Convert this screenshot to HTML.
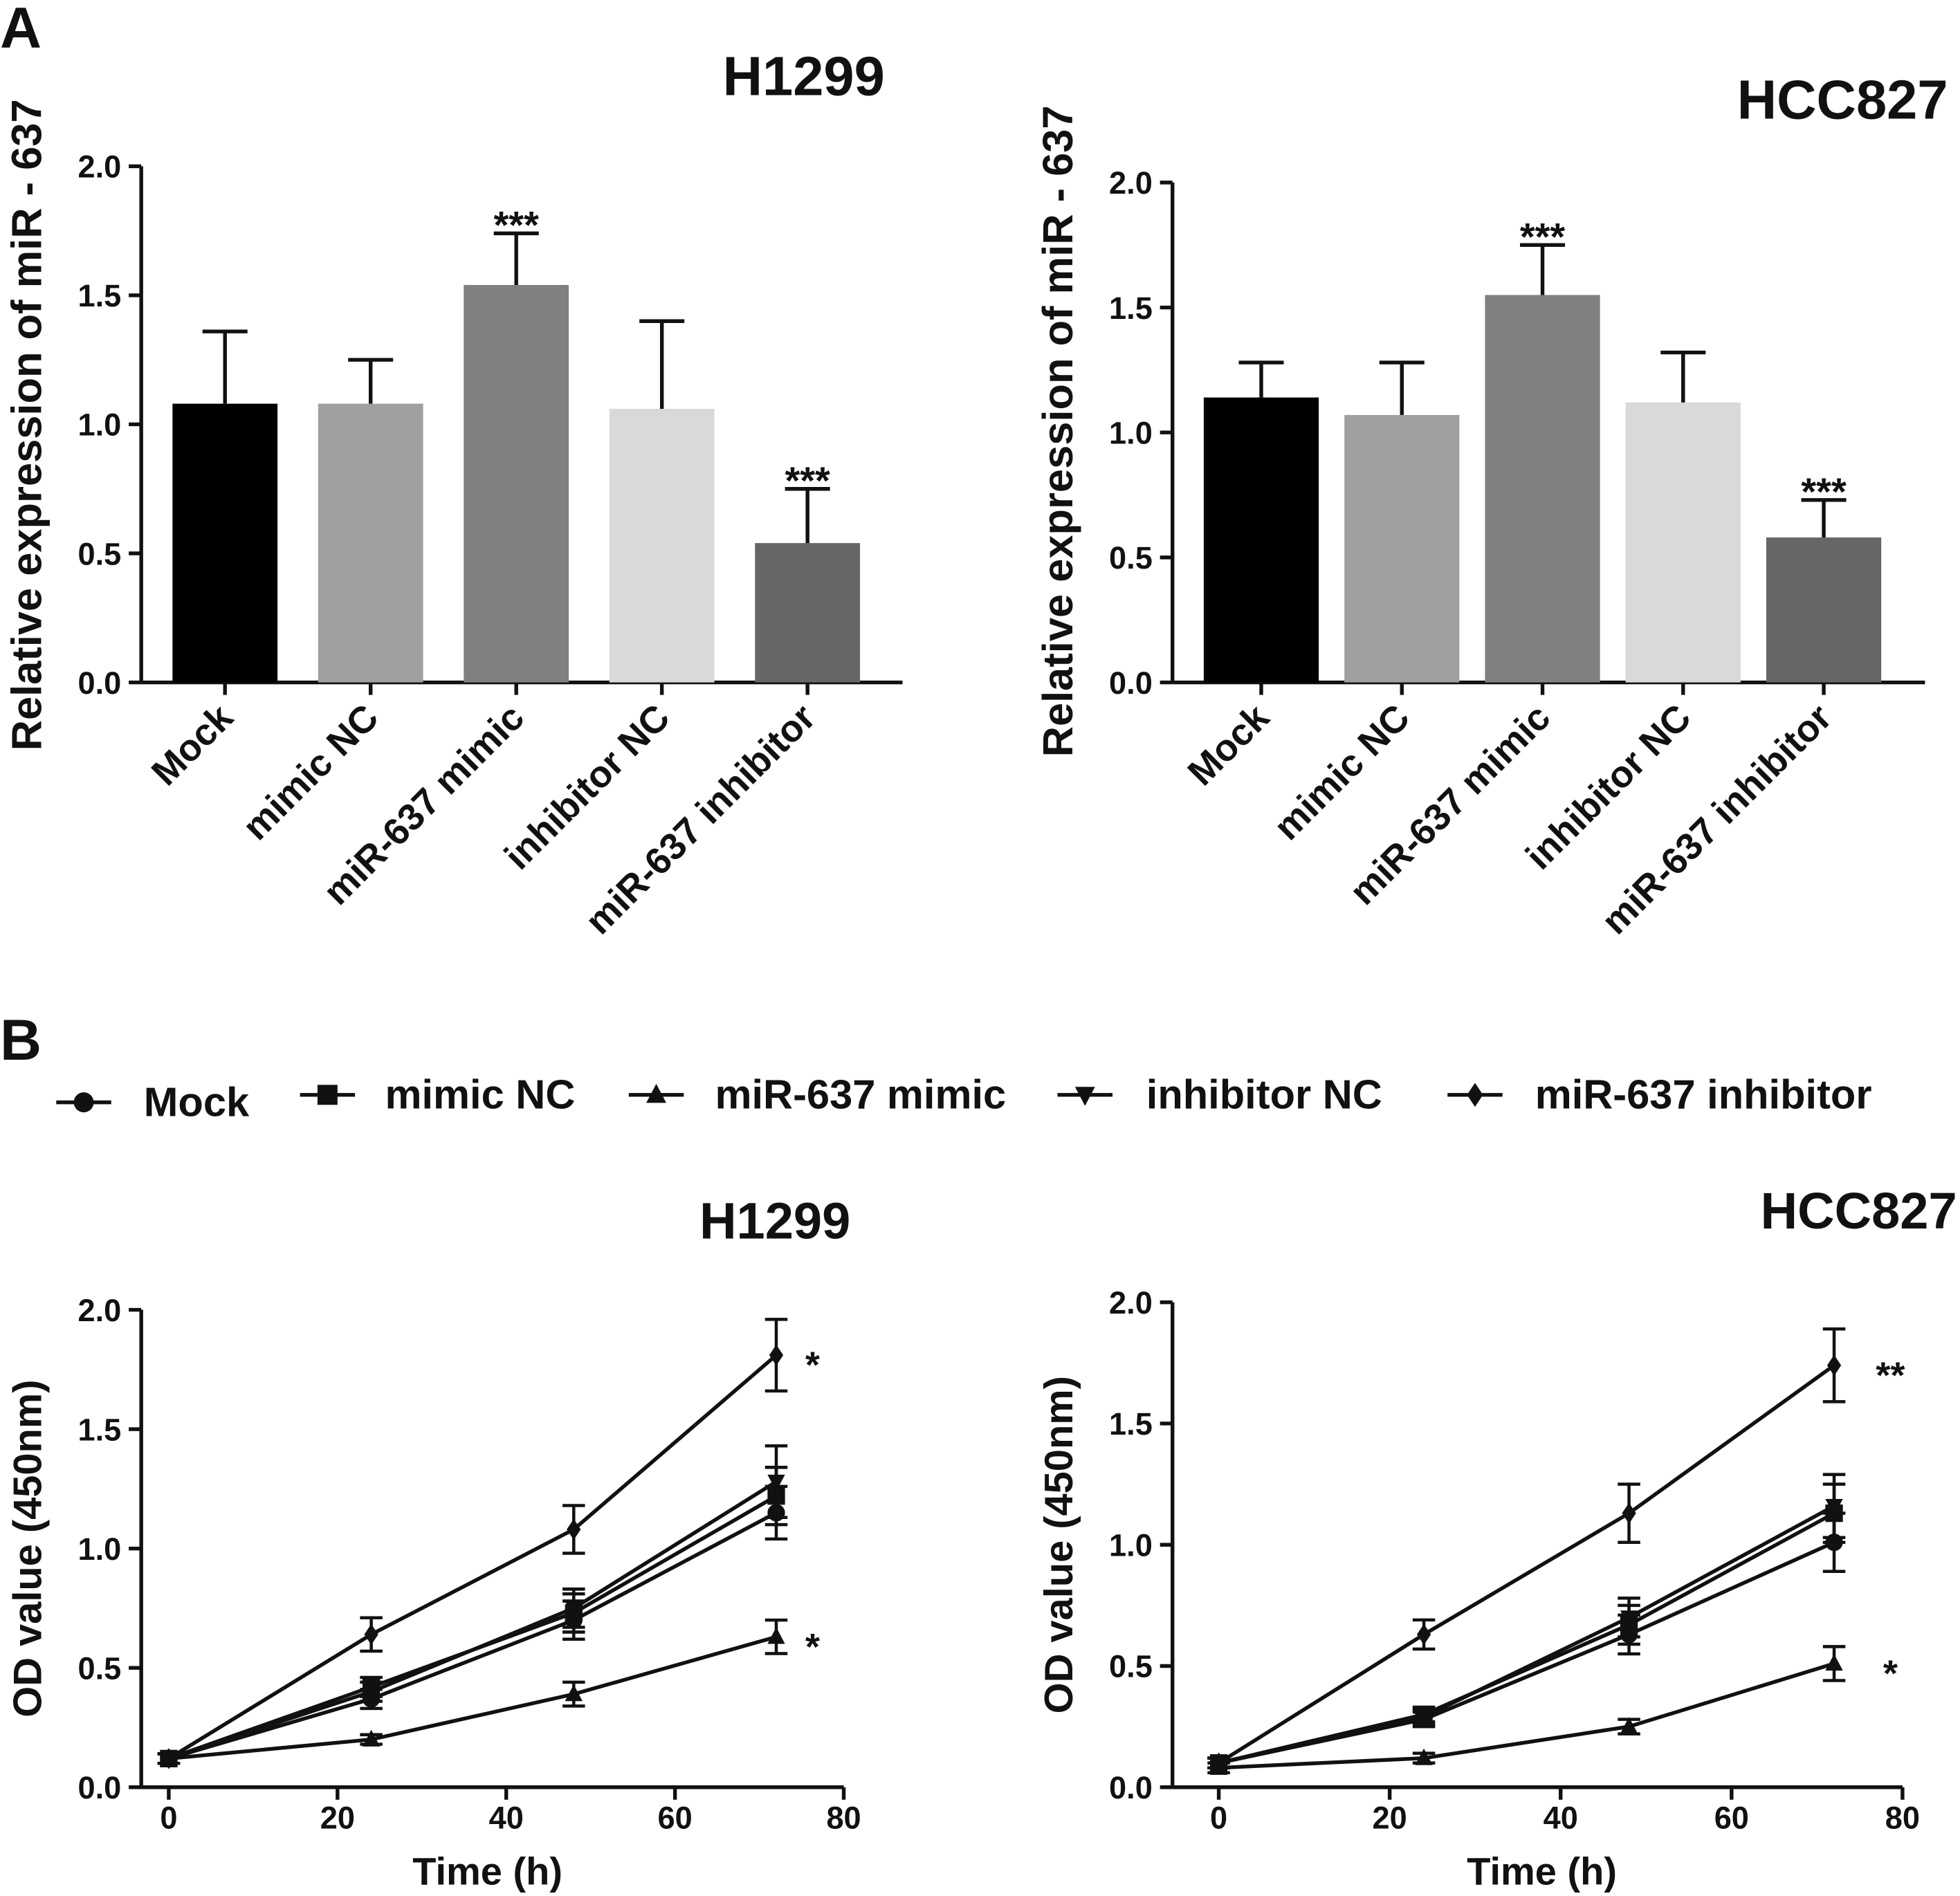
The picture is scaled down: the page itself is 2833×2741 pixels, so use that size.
<!DOCTYPE html>
<html><head><meta charset="utf-8"><style>
html,body{margin:0;padding:0;background:#fff}
svg{display:block}
text{font-family:"Liberation Sans",Arial,sans-serif;font-weight:bold;fill:#111}
</style></head><body>
<svg id="fig" width="2833" height="2741" viewBox="0 0 1568 1517" xmlns="http://www.w3.org/2000/svg">
<text x="0" y="38" font-size="46">A</text>
<text x="0" y="848" font-size="46">B</text>
<g id="root"></g>
</svg>
<script>
const NS="http://www.w3.org/2000/svg";
const barCats=["Mock","mimic NC","miR-637 mimic","inhibitor NC","miR-637 inhibitor"];
const barColors=["#000000","#a0a0a0","#808080","#d9d9d9","#666666"];
const h1299Bar=[1.08,1.08,1.54,1.06,0.54];
const h1299BarErr=[0.28,0.17,0.20,0.34,0.21];
const h1299BarSig=["","","***","","***"];
const hccBar=[1.14,1.07,1.55,1.12,0.58];
const hccBarErr=[0.14,0.21,0.20,0.20,0.15];
const hccBarSig=["","","***","","***"];
const yTicks=[0,0.5,1.0,1.5,2.0];
const times=[0,24,48,72];
const xTicks=[0,20,40,60,80];
const seriesNames=["Mock","mimic NC","miR-637 mimic","inhibitor NC","miR-637 inhibitor"];
const seriesMarkers=["circle","square","up","down","diamond"];
const h1299Mock=[0.12,0.37,0.70,1.15];
const h1299MimicNC=[0.12,0.42,0.73,1.22];
const h1299Mimic=[0.12,0.20,0.39,0.63];
const h1299InhNC=[0.12,0.40,0.75,1.28];
const h1299Inh=[0.12,0.64,1.08,1.81];
const h1299Err=[[0.02,0.04,0.08,0.11],[0.02,0.04,0.08,0.12],[0.02,0.02,0.05,0.07],[0.02,0.04,0.08,0.15],[0.02,0.07,0.10,0.15]];
const hccMock=[0.10,0.28,0.63,1.01];
const hccMimicNC=[0.10,0.30,0.67,1.13];
const hccMimic=[0.08,0.12,0.25,0.51];
const hccInhNC=[0.10,0.29,0.70,1.16];
const hccInh=[0.10,0.63,1.13,1.74];
const hccErr=[[0.02,0.03,0.08,0.12],[0.02,0.03,0.08,0.12],[0.02,0.02,0.03,0.07],[0.02,0.03,0.08,0.13],[0.02,0.06,0.12,0.15]];
const h1299Sig=[["*",1.81],["*",0.63]];
const hccSig=[["**",1.74],["*",0.51]];

const root=document.getElementById('root');
function el(tag,attrs,parent,txt){const e=document.createElementNS(NS,tag);for(const k in attrs)e.setAttribute(k,attrs[k]);if(txt!==undefined)e.textContent=txt;(parent||root).appendChild(e);return e;}
function line(x1,y1,x2,y2,p,w){return el('line',{x1,y1,x2,y2,stroke:'#111','stroke-width':w||3},p);}

function barChart(o){
  const g=el('g',{});
  
  
  const y=v=>o.y0-(o.y0-o.y2)*v/2;
  line(o.ax,o.y0,o.ax,o.y2,g);line(o.ax,o.y0,o.axEnd,o.y0,g);
  yTicks.forEach(t=>{line(o.ax-10,y(t),o.ax,y(t),g);
    const tt=el('text',{x:o.ax-16,y:y(t)+9,'font-size':25,'text-anchor':'end'},g,t.toFixed(1));
    });
  const lab=el('text',{transform:`translate(${o.ax-80},${o.ly}) rotate(-90)`,'font-size':34,'text-anchor':'middle'},g,'Relative expression of miR - 637');
  
  const t=el('text',{x:o.tx,y:o.ty,'font-size':44,'text-anchor':'middle'},g,o.title);
  
  barCats.forEach((c,i)=>{
    const x0=o.bx0+i*o.step, cx=x0+o.bw/2;
    const r=el('rect',{x:x0,y:y(o.vals[i]),width:o.bw,height:o.y0-y(o.vals[i]),fill:barColors[i]},g);
    
    const top=y(o.vals[i]+o.err[i]);
    line(cx,y(o.vals[i]),cx,top,g);line(cx-18,top,cx+18,top,g);
    line(cx,o.y0,cx,o.y0+10,g);
    if(o.sig[i]){const s=el('text',{x:cx,y:top+4,'font-size':31,'text-anchor':'middle'},g,o.sig[i]);
      }
    const cl=el('text',{transform:`translate(${cx+8},${o.y0+30}) rotate(-45)`,'font-size':30,'text-anchor':'end'},g,c);
    
  });
}
barChart({name:'h1299-bar-chart',ax:113,axEnd:722,y0:546,y2:133,bx0:138,step:116.5,bw:84,vals:h1299Bar,err:h1299BarErr,sig:h1299BarSig,title:'H1299',tx:643,ty:76,ly:340});
barChart({name:'hcc827-bar-chart',ax:938,axEnd:1540,y0:546,y2:146,bx0:963,step:112.5,bw:92,vals:hccBar,err:hccBarErr,sig:hccBarSig,title:'HCC827',tx:1474,ty:95,ly:345});

function marker(type,cx,cy,s,p){
  let m;
  if(type==='circle')m=el('circle',{cx,cy,r:s},p);
  else if(type==='square')m=el('rect',{x:cx-s,y:cy-s,width:2*s,height:2*s},p);
  else if(type==='up')m=el('polygon',{points:`${cx},${cy-s*1.1} ${cx-s},${cy+s*0.8} ${cx+s},${cy+s*0.8}`},p);
  else if(type==='down')m=el('polygon',{points:`${cx},${cy+s*1.1} ${cx-s},${cy-s*0.8} ${cx+s},${cy-s*0.8}`},p);
  else m=el('polygon',{points:`${cx},${cy-s*1.2} ${cx+s*0.8},${cy} ${cx},${cy+s*1.2} ${cx-s*0.8},${cy}`},p);
  m.setAttribute('fill','#111');
  return m;
}
const legX=[[45,115],[240,308],[503,572],[846,917],[1158,1228]];
seriesNames.forEach((n,i)=>{
  const g=el('g',{});
  
  
  const [mx,tx]=legX[i];const ly=i===0?882:876;
  line(mx,ly,mx+44,ly,g);marker(seriesMarkers[i],mx+22,ly,8,g);
  el('text',{x:tx,y:ly+11,'font-size':33},g,n);
});

function lineChart(o){
  const g=el('g',{});
  
  
  const y=v=>o.y0-(o.y0-o.y2)*v/2;
  const x=v=>o.x0+(o.x80-o.x0)*v/80;
  line(o.ax,o.y0,o.ax,o.y2,g);line(o.ax,o.y0,o.x80,o.y0,g);
  yTicks.forEach(t=>{line(o.ax-10,y(t),o.ax,y(t),g);
    const tt=el('text',{x:o.ax-16,y:y(t)+9,'font-size':25,'text-anchor':'end'},g,t.toFixed(1));
    });
  xTicks.forEach(t=>{line(x(t),o.y0,x(t),o.y0+10,g);
    const tt=el('text',{x:x(t),y:o.y0+33,'font-size':25,'text-anchor':'middle'},g,t);
    });
  const yl=el('text',{transform:`translate(${o.ax-80},${(o.y0+o.y2)/2}) rotate(-90)`,'font-size':32,'text-anchor':'middle'},g,'OD value (450nm)');
  
  const xl=el('text',{x:(o.x0+o.x80)/2-15,y:o.y0+78,'font-size':31,'text-anchor':'middle'},g,'Time (h)');
  
  const t=el('text',{x:o.tx,y:o.ty,'font-size':41,'text-anchor':'middle'},g,o.title);
  
  o.series.forEach((s,i)=>{
    const sg=el('g',{},g);
    
    
    el('polyline',{points:times.map((tm,j)=>x(tm)+','+y(s[j])).join(' '),fill:'none',stroke:'#111','stroke-width':3},sg);
    times.forEach((tm,j)=>{const e=o.err[i][j];
      line(x(tm),y(s[j]-e),x(tm),y(s[j]+e),sg,2.5);
      line(x(tm)-9,y(s[j]+e),x(tm)+9,y(s[j]+e),sg,2.5);
      line(x(tm)-9,y(s[j]-e),x(tm)+9,y(s[j]-e),sg,2.5);
      const m=marker(seriesMarkers[i],x(tm),y(s[j]),7,sg);
      
      
    });
  });
  o.sig.forEach(([s,v])=>{const st=el('text',{x:x(72)+o.sigDx,y:y(v)+18,'font-size':30,'text-anchor':'middle'},g,s);
    });
}
lineChart({name:'h1299-line-chart',ax:113,x0:135,x80:675,y0:1430,y2:1048,series:[h1299Mock,h1299MimicNC,h1299Mimic,h1299InhNC,h1299Inh],err:h1299Err,sig:h1299Sig,sigDx:29,title:'H1299',tx:620,ty:991});
lineChart({name:'hcc827-line-chart',ax:938,x0:975,x80:1522,y0:1430,y2:1042,series:[hccMock,hccMimicNC,hccMimic,hccInhNC,hccInh],err:hccErr,sig:hccSig,sigDx:45,title:'HCC827',tx:1487,ty:983});
</script>
</body></html>
